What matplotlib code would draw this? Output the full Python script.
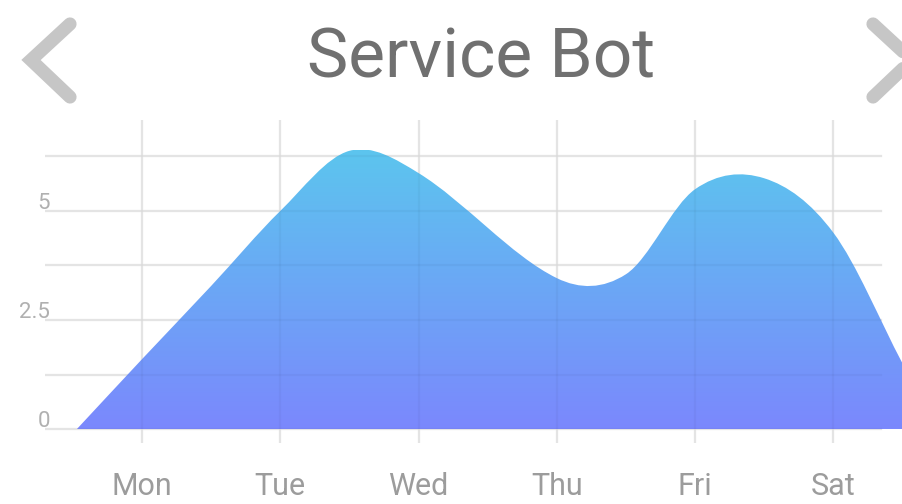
import matplotlib
matplotlib.use("Agg")
import matplotlib.pyplot as plt
import numpy as np
from matplotlib.path import Path
from matplotlib.patches import PathPatch
from matplotlib.colors import LinearSegmentedColormap
from matplotlib.lines import Line2D
import matplotlib.transforms as mtransforms

plt.rcParams["font.family"] = ["Roboto", "DejaVu Sans"]

# data
days = ["Mon", "Tue", "Wed", "Thu", "Fri", "Sat"]
curve_x = [-0.47, 0.0, 0.5, 1.0, 1.5, 2.0, 3.0, 3.5, 4.0, 4.5, 5.0, 5.5]
curve_y = [0.0, 1.6, 3.28, 5.0, 6.38, 5.87, 3.46, 3.55, 5.5, 5.75, 4.5, 1.5]
y_ticks = [0, 2.5, 5]
y_ticklabels = ["0", "2.5", "5"]
y_grid = [0, 1.25, 2.5, 3.75, 5, 6.25]

TOP_COLOR = "#5cc5ee"
BOTTOM_COLOR = "#7b88fd"

fig = plt.figure(figsize=(9.03, 5.04), dpi=100)
ax = fig.add_axes([45 / 903, 1 - 443 / 504, 858 / 903, 323 / 504])
for s in ax.spines.values():
    s.set_visible(False)


def smooth_path(xs, ys):
    # cubic hermite curve as bezier segments, closed down to y=0
    xs = np.asarray(xs, float)
    ys = np.asarray(ys, float)
    n = len(xs)
    m = np.zeros(n)
    m[0] = (ys[1] - ys[0]) / (xs[1] - xs[0])
    m[-1] = (ys[-1] - ys[-2]) / (xs[-1] - xs[-2])
    for i in range(1, n - 1):
        m[i] = (ys[i + 1] - ys[i - 1]) / (xs[i + 1] - xs[i - 1])
    verts = [(xs[0], 0.0), (xs[0], ys[0])]
    codes = [Path.MOVETO, Path.LINETO]
    for i in range(n - 1):
        h = xs[i + 1] - xs[i]
        verts += [
            (xs[i] + h / 3, ys[i] + m[i] * h / 3),
            (xs[i + 1] - h / 3, ys[i + 1] - m[i + 1] * h / 3),
            (xs[i + 1], ys[i + 1]),
        ]
        codes += [Path.CURVE4] * 3
    verts += [(xs[-1], 0.0), (xs[0], 0.0)]
    codes += [Path.LINETO, Path.CLOSEPOLY]
    return Path(verts, codes)


area = PathPatch(smooth_path(curve_x, curve_y), facecolor="none", edgecolor="none")
ax.add_patch(area)

cmap = LinearSegmentedColormap.from_list("svc", [BOTTOM_COLOR, TOP_COLOR])
grad = np.linspace(0, 1, 256).reshape(-1, 1)
img = ax.imshow(
    grad,
    cmap=cmap,
    origin="lower",
    aspect="auto",
    extent=[min(curve_x), max(curve_x), 0, max(curve_y)],
    zorder=1,
)
img.set_clip_path(area)
ax.set_xlim(-0.701, 5.503)
ax.set_ylim(-0.321, 7.087)

# grid: light lines under the fill, faint dark overlay on top
for i in range(len(days)):
    ax.axvline(i, color="#ececec", lw=1.6, zorder=0)
    ax.axvline(i, color=(0, 0, 0, 0.03), lw=1.6, zorder=3)
for g in y_grid:
    ax.axhline(g, xmin=0, xmax=0.974, color="#ececec", lw=1.6, zorder=0)
    ax.axhline(g, xmin=0, xmax=0.974, color=(0, 0, 0, 0.03), lw=1.6, zorder=3)

# ticks
ax.set_xticks(range(len(days)))
ax.set_xticklabels(days, fontsize=22, color="#9c9c9c")
ax.tick_params(axis="x", length=0, pad=21)
ax.set_yticks([])

trans = mtransforms.blended_transform_factory(ax.transAxes, ax.transData)
for v, lab in zip(y_ticks, y_ticklabels):
    ax.text(0.006, v + 0.05, lab, transform=trans, ha="right", va="baseline",
            fontsize=16, color="#b0b0b0")

# title
fig.text(0.533, 1 - 78 / 504, "Service Bot", ha="center", va="baseline",
         fontsize=50, color="#707070")

# nav chevrons (pixel coords)
px = mtransforms.Affine2D().scale(1 / 903, 1 / 504) + fig.transFigure
flip = lambda pts: ([p[0] for p in pts], [504 - p[1] for p in pts])
left = [(70, 24), (31, 60), (70, 97)]
right = [(873, 24), (912, 60), (873, 97)]
for pts in (left, right):
    xs, ys = flip(pts)
    fig.add_artist(Line2D(xs, ys, transform=px, color="#c6c6c6", lw=9.5,
                          solid_capstyle="round", solid_joinstyle="miter"))

fig.savefig("out.png", dpi=100, facecolor="white")
